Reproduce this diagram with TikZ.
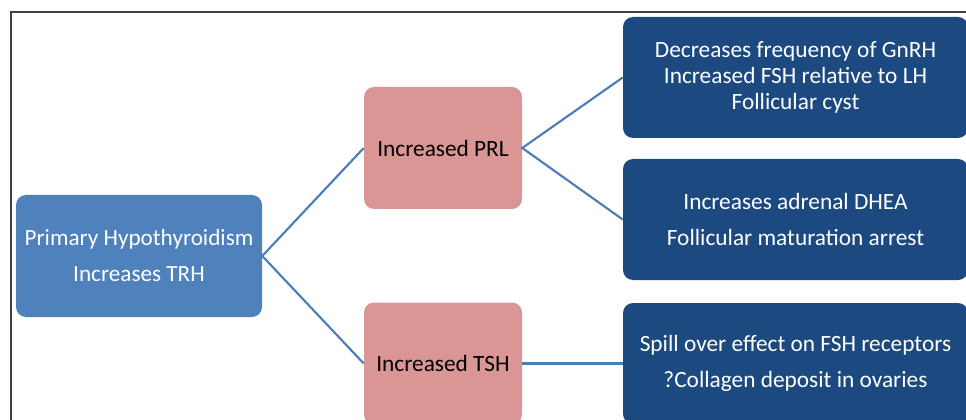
\documentclass[tikz,border=0pt]{standalone}
\usepackage{fontspec}
\setmainfont{Carlito}
\definecolor{mainblue}{HTML}{4F81BD}
\definecolor{pinkbox}{HTML}{D99694}
\definecolor{darkbox}{HTML}{1C4A80}
\definecolor{linkblue}{HTML}{4A7EBB}
\definecolor{framegray}{HTML}{404040}
\begin{document}
\begin{tikzpicture}[x=0.75pt,y=-0.75pt,
  box/.style={rounded corners=7.5pt, align=center, inner sep=0pt},
  mainstyle/.style={box, fill=mainblue, text=white, minimum width=184.5pt, minimum height=91.5pt, font=\fontsize{17.4}{27}\selectfont},
  pinkstyle/.style={box, fill=pinkbox, text=black, minimum width=118.5pt, minimum height=91.5pt, font=\fontsize{17.5}{27}\selectfont},
  darkstyle/.style={box, fill=darkbox, text=white, minimum width=258.75pt, minimum height=90.75pt},
  link/.style={draw=linkblue, line width=1.6pt}]
\useasboundingbox (0,0) rectangle (966,420);
\fill[white] (0,0) rectangle (966,420);
\draw[framegray, line width=1pt] (11,12) rectangle (990,440);
\node[mainstyle] (main) at (139,256) {Primary Hypothyroidism\\Increases TRH};
\node[pinkstyle] (prl) at (443,148) {Increased PRL};
\node[pinkstyle] (tsh) at (443,363.5) {Increased TSH};
\node[darkstyle, font=\fontsize{17.5}{19.5}\selectfont] (d1) at (795.5,77.5) {Decreases frequency of GnRH\\Increased FSH relative to LH\\Follicular cyst};
\node[darkstyle, font=\fontsize{17.5}{27}\selectfont] (d2) at (795.5,219.5) {Increases adrenal DHEA\\Follicular maturation arrest};
\node[darkstyle, font=\fontsize{17.5}{26.5}\selectfont] (d3) at (795.5,363.5) {Spill over effect on FSH receptors\\?Collagen deposit in ovaries};
\draw[link] (prl.west) -- (main.east) -- (tsh.west);
\draw[link] (d1.west) -- (prl.east) -- (d2.west);
\draw[link] (tsh.east) -- (d3.west);
\end{tikzpicture}
\end{document}
